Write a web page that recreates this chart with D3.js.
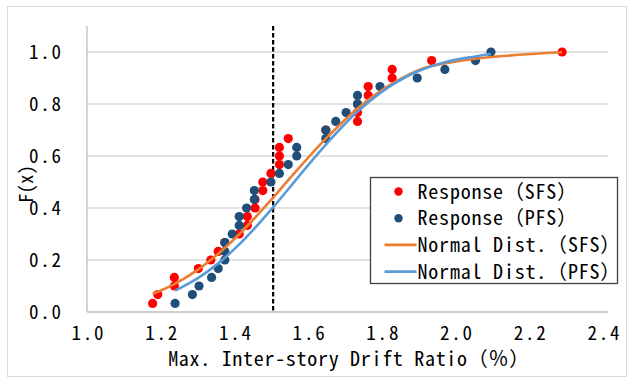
<!DOCTYPE html>
<html>
<head>
<meta charset="utf-8">
<script src="https://cdn.jsdelivr.net/npm/d3@7"></script>
<style>
  html, body { margin: 0; padding: 0; background: #fff; }
  svg { display: block; }
  text { font-family: "Noto Sans Mono CJK JP", "Noto Sans CJK JP", "DejaVu Sans Mono", monospace; fill: #000; }
</style>
</head>
<body>
<svg id="chart" width="632" height="380"></svg>
<script>
// Cumulative probability of each ranked response (30 analyses per frame)
const probLevels = [0.033, 0.067, 0.100, 0.133, 0.167, 0.200, 0.233, 0.267, 0.300, 0.333,
                    0.367, 0.400, 0.433, 0.467, 0.500, 0.533, 0.567, 0.600, 0.633, 0.667,
                    0.700, 0.733, 0.767, 0.800, 0.833, 0.867, 0.900, 0.933, 0.967, 1.000];

// Ranked maximum inter-story drift ratio (%) — SFS frame
const sfsDrift = [1.178, 1.192, 1.237, 1.237, 1.302, 1.336, 1.356, 1.374, 1.413, 1.435,
                  1.435, 1.456, 1.456, 1.477, 1.477, 1.499, 1.522, 1.522, 1.522, 1.546,
                  1.648, 1.734, 1.734, 1.734, 1.763, 1.763, 1.828, 1.828, 1.935, 2.289];

// Ranked maximum inter-story drift ratio (%) — PFS frame
const pfsDrift = [1.239, 1.286, 1.304, 1.338, 1.356, 1.374, 1.374, 1.374, 1.394, 1.413,
                  1.413, 1.433, 1.454, 1.454, 1.499, 1.522, 1.546, 1.569, 1.569, 1.648,
                  1.648, 1.675, 1.703, 1.734, 1.734, 1.795, 1.896, 1.971, 2.054, 2.096];

// Fitted normal distribution curves
const sfsFitDrift = [1.178, 1.237, 1.302, 1.356, 1.413, 1.456, 1.499, 1.546, 1.648, 1.734, 1.828, 1.935, 2.289];
const sfsFitF     = [0.069, 0.107, 0.164, 0.224, 0.299, 0.363, 0.430, 0.507, 0.667, 0.783, 0.878, 0.946, 0.999];
const pfsFitDrift = [1.239, 1.304, 1.356, 1.413, 1.454, 1.499, 1.546, 1.569, 1.648, 1.703, 1.734, 1.795, 1.896, 1.971, 2.054, 2.096];
const pfsFitF     = [0.082, 0.133, 0.187, 0.260, 0.321, 0.393, 0.472, 0.512, 0.644, 0.728, 0.771, 0.842, 0.925, 0.961, 0.983, 0.992];

const xTicks = [1.0, 1.2, 1.4, 1.6, 1.8, 2.0, 2.2, 2.4];
const yTicks = [0.0, 0.2, 0.4, 0.6, 0.8, 1.0];
const criterionDrift = 1.505;

const legendItems = [
  { label: "Response（SFS）", kind: "dot", color: "#ff0000" },
  { label: "Response（PFS）", kind: "dot", color: "#1f4e79" },
  { label: "Normal Dist.（SFS）", kind: "line", color: "#ed7d31" },
  { label: "Normal Dist.（PFS）", kind: "line", color: "#5b9bd5" }
];

const svg = d3.select("#chart");
const fmt = d3.format(".1f");

// Chart frame
svg.append("rect")
  .attr("x", 7.5).attr("y", 6.5).attr("width", 619).attr("height", 370)
  .attr("fill", "#fff").attr("stroke", "#d9d9d9").attr("stroke-width", 1);

const x = d3.scaleLinear().domain([1.0, 2.4]).range([87, 603]);
const y = d3.scaleLinear().domain([0, 1.1]).range([312, 26]);
const plotRight = 608;

// Horizontal gridlines
svg.append("g").selectAll("line")
  .data(yTicks.filter(d => d > 0))
  .join("line")
  .attr("x1", x(1.0)).attr("x2", plotRight)
  .attr("y1", d => y(d)).attr("y2", d => y(d))
  .attr("stroke", "#d9d9d9").attr("stroke-width", 1.3);

// Axis lines
svg.append("line")
  .attr("x1", x(1.0)).attr("x2", x(1.0)).attr("y1", y(1.1)).attr("y2", y(0))
  .attr("stroke", "#bfbfbf").attr("stroke-width", 1.3);
svg.append("line")
  .attr("x1", x(1.0)).attr("x2", plotRight).attr("y1", y(0)).attr("y2", y(0))
  .attr("stroke", "#bfbfbf").attr("stroke-width", 1.3);

// Tick labels
const tickSpacing = 1.8;
const xAxis = d3.axisBottom(x).tickValues(xTicks).tickFormat(fmt).tickSize(0).tickPadding(0);
const gx = svg.append("g").attr("transform", `translate(0,${y(0)})`).call(xAxis);
gx.select(".domain").remove();
gx.selectAll("text")
  .attr("dy", null).attr("y", 28).attr("x", tickSpacing / 2)
  .style("font-size", "19px").style("letter-spacing", `${tickSpacing}px`);

const yAxis = d3.axisLeft(y).tickValues(yTicks).tickFormat(fmt).tickSize(0).tickPadding(0);
const gy = svg.append("g").attr("transform", `translate(61,0)`).call(yAxis);
gy.select(".domain").remove();
gy.selectAll("text")
  .attr("x", tickSpacing).attr("dy", "0.36em")
  .style("font-size", "19px").style("letter-spacing", `${tickSpacing}px`);

// Axis titles
svg.append("text")
  .attr("x", 349).attr("y", 366)
  .attr("text-anchor", "middle")
  .style("font-size", "20px").style("letter-spacing", "0.7px")
  .text("Max. Inter-story Drift Ratio（％）");
svg.append("text")
  .attr("transform", "translate(33,184) rotate(-90)")
  .attr("text-anchor", "middle")
  .style("font-size", "19px")
  .text("F(x)");

// Criterion line
svg.append("line")
  .attr("x1", x(criterionDrift)).attr("x2", x(criterionDrift))
  .attr("y1", y(1.1)).attr("y2", y(0))
  .attr("stroke", "#000").attr("stroke-width", 2.2)
  .attr("stroke-dasharray", "4.5,2.5");

// Response points
const dots = svg.append("g");
dots.selectAll("circle.sfs")
  .data(d3.zip(sfsDrift, probLevels))
  .join("circle").attr("class", "sfs")
  .attr("cx", d => x(d[0])).attr("cy", d => y(d[1])).attr("r", 4.6)
  .attr("fill", "#ff0000");
dots.selectAll("circle.pfs")
  .data(d3.zip(pfsDrift, probLevels))
  .join("circle").attr("class", "pfs")
  .attr("cx", d => x(d[0])).attr("cy", d => y(d[1])).attr("r", 4.6)
  .attr("fill", "#1f4e79");

// Fitted curves
const line = d3.line().x(d => x(d[0])).y(d => y(d[1])).curve(d3.curveMonotoneX);
svg.append("path")
  .datum(d3.zip(sfsFitDrift, sfsFitF))
  .attr("d", line).attr("fill", "none")
  .attr("stroke", "#ed7d31").attr("stroke-width", 2.6).attr("stroke-linejoin", "round");
svg.append("path")
  .datum(d3.zip(pfsFitDrift, pfsFitF))
  .attr("d", line).attr("fill", "none")
  .attr("stroke", "#5b9bd5").attr("stroke-width", 2.6).attr("stroke-linejoin", "round");

// Legend
const legend = svg.append("g").attr("transform", "translate(370.5,177.5)");
legend.append("rect")
  .attr("width", 247).attr("height", 106)
  .attr("fill", "#fff").attr("stroke", "#404040").attr("stroke-width", 1.3);
const rows = legend.selectAll("g.row")
  .data(legendItems)
  .join("g").attr("class", "row")
  .attr("transform", (d, i) => `translate(0,${14 + i * 26.7})`);
rows.filter(d => d.kind === "dot").append("circle")
  .attr("cx", 28).attr("cy", 0).attr("r", 4.2).attr("fill", d => d.color);
rows.filter(d => d.kind === "line").append("line")
  .attr("x1", 14).attr("x2", 46).attr("y1", 0).attr("y2", 0)
  .attr("stroke", d => d.color).attr("stroke-width", 2.6);
rows.append("text")
  .attr("x", 47).attr("y", 0).attr("dy", "0.36em")
  .style("font-size", "20px").style("letter-spacing", "0.8px")
  .text(d => d.label);
</script>
</body>
</html>
